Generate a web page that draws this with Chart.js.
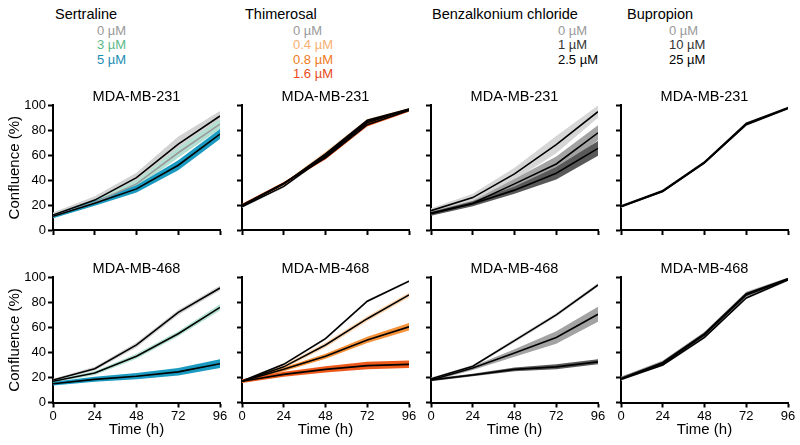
<!DOCTYPE html>
<html>
<head>
<meta charset="utf-8">
<script src="https://cdn.jsdelivr.net/npm/chart.js@4"></script>
<style>
body { margin: 0; width: 800px; height: 445px; position: relative; background: #fff; overflow: hidden;
       font-family: "Liberation Sans", Arial, sans-serif; }
.lbl { position: absolute; white-space: nowrap; line-height: 16px; }
.drug { font-size: 14.5px; color: #000; }
.dose { font-size: 13px; }
canvas { position: absolute; }
</style>
</head>
<body>
<script>
// time points (h)
const hours = [0, 24, 48, 72, 96];

// Sertraline, MDA-MB-231 (mean and band half width, % confluence)
const sert231_0 = [12, 24, 42, 69, 91.5];
const sert231_0_err = [2, 3, 4, 6, 4];
const sert231_3 = [11, 22, 37, 62, 85];
const sert231_3_err = [1.5, 2, 3, 4, 4];
const sert231_5 = [11, 21.5, 33, 52, 77];
const sert231_5_err = [1.5, 2, 3, 4, 4];

// Thimerosal, MDA-MB-231
const thim231_0 = [18.6, 35, 59, 86, 97];
const thim231_0_err = [1, 1, 1, 1, 1];
const thim231_04 = [19.5, 37, 61, 88, 97];
const thim231_04_err = [1, 1, 2, 1, 1];
const thim231_08 = [19.5, 37, 60, 87, 96.5];
const thim231_08_err = [1, 1, 1.5, 1.5, 1];
const thim231_16 = [20, 37.5, 58, 84.5, 96];
const thim231_16_err = [1, 1, 1.5, 1.5, 1];

// Benzalkonium chloride, MDA-MB-231
const benz231_0 = [15.5, 26, 45, 68.5, 95];
const benz231_0_err = [2, 3, 5, 7, 5];
const benz231_1 = [13.5, 21.5, 37, 53, 78];
const benz231_1_err = [1.5, 2, 4, 6, 6];
const benz231_25 = [13, 21, 32, 45.5, 65.5];
const benz231_25_err = [1.5, 2, 3, 5, 6];

// Bupropion, MDA-MB-231
const bupr231_0 = [18.6, 31, 54, 84.5, 97.5];
const bupr231_0_err = [1, 1, 1, 1, 1];
const bupr231_10 = [19, 31.5, 54.5, 85.5, 98];
const bupr231_10_err = [1, 1, 1, 1, 1];
const bupr231_25 = [19, 31, 54, 85, 98];
const bupr231_25_err = [1, 1, 1, 1, 1];

// Sertraline, MDA-MB-468
const sert468_0 = [18, 27, 46, 72, 91.5];
const sert468_0_err = [1, 1.5, 2, 2, 2];
const sert468_3 = [17, 23.5, 37, 55, 76];
const sert468_3_err = [1, 1.5, 2, 2, 2.5];
const sert468_5 = [15, 18.5, 21, 24.5, 31];
const sert468_5_err = [1.5, 2, 2.5, 3, 3.5];

// Thimerosal, MDA-MB-468
const thim468_0 = [17, 30.5, 51, 81, 97];
const thim468_0_err = [1, 1, 1, 1, 1];
const thim468_04 = [17, 28.5, 46, 67, 86];
const thim468_04_err = [1, 1.5, 2, 2, 2];
const thim468_08 = [17, 26.5, 37, 50, 60.5];
const thim468_08_err = [1, 1.5, 2, 2.5, 3];
const thim468_16 = [17, 22.5, 26.5, 29.5, 30.5];
const thim468_16_err = [1.5, 2, 2.5, 3, 3];

// Benzalkonium chloride, MDA-MB-468
const benz468_0 = [19, 29, 49.5, 70, 94];
const benz468_0_err = [1, 1, 1.5, 1.5, 1.5];
const benz468_1 = [18, 27.5, 39.5, 52, 70.5];
const benz468_1_err = [1, 1.5, 3, 5, 6];
const benz468_25 = [18, 22, 26.5, 28.5, 32.5];
const benz468_25_err = [1, 1, 1.5, 2, 2];

// Bupropion, MDA-MB-468
const bupr468_0 = [18.5, 30, 52, 83.5, 98];
const bupr468_0_err = [1, 1, 1, 1, 1];
const bupr468_10 = [19, 32, 55, 87, 99];
const bupr468_10_err = [1.5, 1.5, 1.5, 1.5, 1];
const bupr468_25 = [19, 31, 54, 86, 98.5];
const bupr468_25_err = [1.5, 1.5, 1.5, 1.5, 1];

// header labels
const drugNames = ['Sertraline', 'Thimerosal', 'Benzalkonium chloride', 'Bupropion'];
const sertDoses = ['0 µM', '3 µM', '5 µM'];
const thimDoses = ['0 µM', '0.4 µM', '0.8 µM', '1.6 µM'];
const benzDoses = ['0 µM', '1 µM', '2.5 µM'];
const buprDoses = ['0 µM', '10 µM', '25 µM'];
const cellLines = ['MDA-MB-231', 'MDA-MB-468'];


const sertColors = ['#d2d2d2', '#b3e0d2', '#1a9ac0'];
const thimColors = ['#d2d2d2', '#fdd6b2', '#f5923a', '#ee5a1c'];
const benzColors = ['#d6d6d6', '#a3a3a3', '#595959'];
const buprColors = ['#d6d6d6', '#a8a8a8', '#7a7a7a'];
const sertText = ['#999999', '#5db98a', '#1a8db3'];
const thimText = ['#999999', '#f8b072', '#f07a1a', '#e84a1a'];
const benzText = ['#999999', '#333333', '#000000'];
const buprText = ['#999999', '#333333', '#000000'];

const colLeft = [53, 242, 431, 621];
const headerDrugX = [55, 245, 432, 627];
const headerDoseX = [97, 293, 558, 669];

Chart.defaults.font.family = '"Liberation Sans", Arial, sans-serif';
Chart.defaults.color = '#000';


function addLabel(text, x, yCenter, cls, color) {
    let div = document.createElement('div');
    div.className = 'lbl ' + cls;
    div.style.left = x + 'px';
    div.style.top = (yCenter - 8) + 'px';
    div.style.color = color;
    div.textContent = text;
    document.body.appendChild(div);
}


function drawHeader() {
    let doses = [sertDoses, thimDoses, benzDoses, buprDoses];
    let colors = [sertText, thimText, benzText, buprText];
    for (let c = 0; c < 4; c++) {
        addLabel(drugNames[c], headerDrugX[c], 13.5, 'drug', '#000');
        for (let i = 0; i < doses[c].length; i++) {
            addLabel(doses[c][i], headerDoseX[c], 31 + i * 14.3, 'dose', colors[c][i]);
        }
    }
}


function toPoints(values) {
    return hours.map((t, k) => ({ x: t, y: values[k] }));
}


function makePanel(p) {
    let canvas = document.createElement('canvas');
    let top = p.row == 0 ? 87 : 259;
    let height = p.row == 0 ? 154 : 186;
    canvas.width = 232;
    canvas.height = height;
    canvas.style.left = (colLeft[p.col] - 53) + 'px';
    canvas.style.top = top + 'px';
    document.body.appendChild(canvas);

    let datasets = [];
    p.means.forEach((m, i) => {
        let err = p.errs[i];
        let upper = m.map((v, k) => v + err[k]);
        let lower = m.map((v, k) => v - err[k]);
        let idx = datasets.length;
        datasets.push({
            data: toPoints(upper), fill: idx + 1, backgroundColor: p.bands[i],
            borderColor: 'transparent', borderWidth: 0, pointRadius: 0, order: 100 - i
        });
        datasets.push({
            data: toPoints(lower), fill: false, borderColor: 'transparent',
            borderWidth: 0, pointRadius: 0, order: 100 - i
        });
    });
    p.means.forEach((m, i) => {
        datasets.push({
            data: toPoints(m), fill: false, borderColor: (p.lineColors && p.lineColors[i]) || '#000',
            borderWidth: 1.6, pointRadius: 0, order: 10 - i
        });
    });

    new Chart(canvas, {
        type: 'line',
        data: { datasets: datasets },
        options: {
            responsive: false,
            animation: false,
            layout: { padding: { left: 0, right: 12, top: 0, bottom: 0 } },
            plugins: {
                legend: { display: false },
                tooltip: { enabled: false },
                title: {
                    display: true, text: cellLines[p.row], color: '#000', fullSize: false,
                    font: { size: 14.5, weight: 'normal' }, padding: { top: 1, bottom: 0 }
                }
            },
            scales: {
                x: {
                    type: 'linear', min: 0, max: 96,
                    ticks: { stepSize: 24, display: p.row == 1, color: '#000', font: { size: 13 }, padding: 1, maxRotation: 0, autoSkip: false },
                    grid: { drawOnChartArea: false, tickLength: 5, tickColor: '#000', tickWidth: 2 },
                    border: { color: '#000', width: 2 },
                    title: { display: p.row == 1, text: 'Time (h)', color: '#000', font: { size: 15 }, padding: { top: 0, bottom: 6 } },
                    afterFit: (s) => { s.height = p.row == 0 ? 11 : 42.5; }
                },
                y: {
                    min: 0, max: 100,
                    ticks: { stepSize: 20, display: p.col == 0, color: '#000', font: { size: 13 }, padding: 2 },
                    grid: { drawOnChartArea: false, tickLength: 5, tickColor: '#000', tickWidth: 2 },
                    border: { color: '#000', width: 2 },
                    title: { display: p.col == 0, text: 'Confluence (%)', color: '#000', font: { size: 15 }, padding: { top: 6, bottom: 0 } },
                    afterFit: (s) => { s.width = 53; }
                }
            }
        }
    });
}


let panels = [
    { row: 0, col: 0, means: [sert231_0, sert231_3, sert231_5], errs: [sert231_0_err, sert231_3_err, sert231_5_err], bands: sertColors, lineColors: ['#000', '#9a9a9a', '#000'] },
    { row: 0, col: 1, means: [thim231_0, thim231_04, thim231_08, thim231_16], errs: [thim231_0_err, thim231_04_err, thim231_08_err, thim231_16_err], bands: thimColors },
    { row: 0, col: 2, means: [benz231_0, benz231_1, benz231_25], errs: [benz231_0_err, benz231_1_err, benz231_25_err], bands: benzColors },
    { row: 0, col: 3, means: [bupr231_0, bupr231_10, bupr231_25], errs: [bupr231_0_err, bupr231_10_err, bupr231_25_err], bands: buprColors },
    { row: 1, col: 0, means: [sert468_0, sert468_3, sert468_5], errs: [sert468_0_err, sert468_3_err, sert468_5_err], bands: sertColors },
    { row: 1, col: 1, means: [thim468_0, thim468_04, thim468_08, thim468_16], errs: [thim468_0_err, thim468_04_err, thim468_08_err, thim468_16_err], bands: thimColors },
    { row: 1, col: 2, means: [benz468_0, benz468_1, benz468_25], errs: [benz468_0_err, benz468_1_err, benz468_25_err], bands: benzColors },
    { row: 1, col: 3, means: [bupr468_0, bupr468_10, bupr468_25], errs: [bupr468_0_err, bupr468_10_err, bupr468_25_err], bands: buprColors }
];

drawHeader();
panels.forEach(p => makePanel(p));
</script>
</body>
</html>
